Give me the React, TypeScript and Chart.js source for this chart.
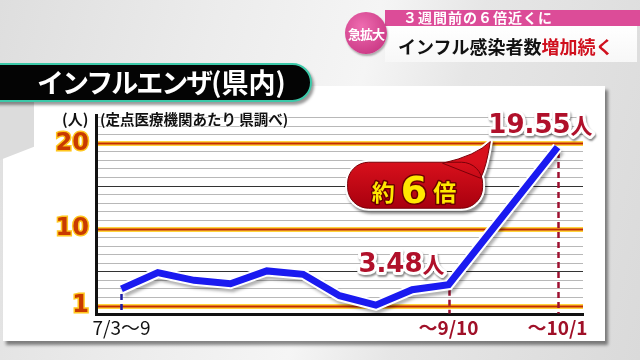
import React, { useEffect, useRef } from "react";
import { Chart, registerables } from "chart.js";
Chart.register(...registerables);

// ---- data ----
const categories = [
  "7/3～9", "～7/16", "～7/23", "～7/30", "～8/6", "～8/13", "～8/20",
  "～8/27", "～9/3", "～9/10", "～9/17", "～9/24", "～10/1",
];
const perClinic: (number | null)[] = [3.0, 4.9, 4.0, 3.6, 5.1, 4.7, 2.2, 1.1, 2.9, 3.48, null, null, 19.55];
const shownXTicks = [0, 9, 12];
const yTickLabels = [1, 10, 20];
const highlightLines = [1, 10, 20];
const darkLines = [5, 15];
const labelledPoints = [9, 12];
const yMin = 0;
const yMax = 23.3;
const unit = "人";

// annotation anchors (in data units)
const calloutCenter = { x: 8.08, y: 15.1 };
const calloutTip = { x: 10.15, y: 20.2 };

const fontJP = '"Noto Sans CJK JP", "Noto Sans", sans-serif';
const fontNum = '"DejaVu Sans", sans-serif';

const decorPlugin = {
  id: "decor",
  beforeDatasetsDraw(chart: any) {
    const { ctx, chartArea, scales } = chart;
    const x = scales.x, y = scales.y;
    ctx.save();
    highlightLines.forEach((v) => {
      const py = Math.round(y.getPixelForValue(v)) + 0.5;
      ctx.beginPath();
      ctx.moveTo(chartArea.left + 2, py);
      ctx.lineTo(chartArea.right, py);
      ctx.strokeStyle = "#ffd43c";
      ctx.lineWidth = 5;
      ctx.stroke();
      ctx.strokeStyle = "#c42a00";
      ctx.lineWidth = 2;
      ctx.stroke();
    });
    const dash = (i: number, color: string) => {
      const px = Math.round(x.getPixelForValue(i)) + 0.5;
      const py = y.getPixelForValue(perClinic[i] as number);
      ctx.beginPath();
      ctx.setLineDash([6, 4]);
      ctx.moveTo(px, py + 5);
      ctx.lineTo(px, chartArea.bottom - 1);
      ctx.strokeStyle = color;
      ctx.lineWidth = 2.5;
      ctx.stroke();
    };
    dash(0, "#1c1ca8");
    dash(9, "#9e1030");
    dash(12, "#9e1030");
    ctx.restore();
  },
  beforeDatasetDraw(chart: any, args: any) {
    const ctx = chart.ctx;
    ctx.save();
    if (args.index === 1) {
      ctx.shadowColor = "rgba(0,0,0,0.3)";
      ctx.shadowOffsetX = 2;
      ctx.shadowOffsetY = 3;
      ctx.shadowBlur = 3;
    }
  },
  afterDatasetDraw(chart: any) {
    chart.ctx.restore();
  },
  afterDatasetsDraw(chart: any) {
    const { ctx, scales } = chart;
    const x = scales.x, y = scales.y;
    ctx.save();

    // value labels
    const drawValue = (i: number, offX: number, offY: number) => {
      const v = perClinic[i] as number;
      const px = x.getPixelForValue(i);
      const py = y.getPixelForValue(v);
      const t = String(v);
      ctx.font = `bold 26px ${fontNum}`;
      const w1 = ctx.measureText(t).width;
      ctx.font = `bold 22px ${fontJP}`;
      const w2 = ctx.measureText(unit).width;
      const right = px + offX;
      const base = py + offY;
      const sx = right - w1 - w2;
      ctx.textBaseline = "alphabetic";
      ctx.textAlign = "left";
      ctx.lineJoin = "round";
      ctx.strokeStyle = "#fff";
      ctx.lineWidth = 6;
      ctx.shadowColor = "rgba(0,0,0,0.45)";
      ctx.shadowOffsetX = 1;
      ctx.shadowOffsetY = 2;
      ctx.shadowBlur = 2;
      ctx.font = `bold 26px ${fontNum}`;
      ctx.strokeText(t, sx, base);
      ctx.font = `bold 22px ${fontJP}`;
      ctx.strokeText(unit, sx + w1, base + 1);
      ctx.shadowColor = "transparent";
      ctx.fillStyle = "#b0102a";
      ctx.font = `bold 26px ${fontNum}`;
      ctx.fillText(t, sx, base);
      ctx.font = `bold 22px ${fontJP}`;
      ctx.fillText(unit, sx + w1, base + 1);
    };
    drawValue(labelledPoints[0], -4, -13);
    drawValue(labelledPoints[1], 35, -14);

    // callout bubble
    const cx = x.getPixelForValue(calloutCenter.x);
    const cy = y.getPixelForValue(calloutCenter.y);
    const tx = x.getPixelForValue(calloutTip.x);
    const ty = y.getPixelForValue(calloutTip.y);
    const w = 135, h = 46, r = 21;
    const bubble = () => {
      ctx.beginPath();
      ctx.roundRect(cx - w / 2, cy - h / 2, w, h, r);
      ctx.moveTo(cx + w / 2 - 40, cy - h / 2 + 1);
      ctx.quadraticCurveTo(tx - 14, ty + 14, tx, ty);
      ctx.quadraticCurveTo(tx - 4, ty + 26, cx + w / 2 - 2, cy - h / 2 + 16);
      ctx.closePath();
    };
    bubble();
    ctx.strokeStyle = "#fff";
    ctx.lineWidth = 5;
    ctx.lineJoin = "round";
    ctx.shadowColor = "rgba(0,0,0,0.45)";
    ctx.shadowOffsetX = 2;
    ctx.shadowOffsetY = 3;
    ctx.shadowBlur = 3;
    ctx.stroke();
    ctx.shadowColor = "transparent";
    const g = ctx.createLinearGradient(0, cy - h / 2, 0, cy + h / 2);
    g.addColorStop(0, "#d8101c");
    g.addColorStop(1, "#a8000e");
    ctx.fillStyle = g;
    bubble();
    ctx.fill();
    ctx.strokeStyle = "#7a0008";
    ctx.lineWidth = 1;
    ctx.stroke();

    // callout text
    const base = cy + 18;
    ctx.fillStyle = "#ffe800";
    ctx.strokeStyle = "#6a0000";
    ctx.lineWidth = 3;
    ctx.textAlign = "left";
    ctx.textBaseline = "alphabetic";
    const parts = [
      { t: "約", f: `bold 23px ${fontJP}`, b: base - 2 },
      { t: "6", f: `bold 38px ${fontNum}`, b: base },
      { t: "倍", f: `bold 23px ${fontJP}`, b: base - 2 },
    ];
    const gap = 6;
    let total = 0;
    const widths = parts.map((p) => {
      ctx.font = p.f;
      const m = ctx.measureText(p.t).width;
      total += m;
      return m;
    });
    total += gap * (parts.length - 1);
    let sx = cx - total / 2 - 1;
    parts.forEach((p, k) => {
      ctx.font = p.f;
      ctx.strokeText(p.t, sx, p.b);
      ctx.fillText(p.t, sx, p.b);
      sx += widths[k] + gap;
    });
    ctx.restore();
  },
};

export default function App() {
  const ref = useRef<HTMLCanvasElement>(null);
  useEffect(() => {
    const points = perClinic.map((v, i) => ({ x: i, y: v }));
    const chart = new Chart(ref.current as HTMLCanvasElement, {
      type: "line",
      data: {
        datasets: [
          {
            data: points,
            borderColor: "#1a1af0",
            borderWidth: 7,
            pointRadius: 0,
            spanGaps: true,
            borderJoinStyle: "miter",
            order: 0,
          },
          {
            data: points,
            borderColor: "#ffffff",
            borderWidth: 11,
            pointRadius: 0,
            spanGaps: true,
            borderJoinStyle: "miter",
            order: 1,
          },
        ],
      },
      options: {
        responsive: false,
        animation: false,
        devicePixelRatio: 1,
        layout: { padding: { top: 115, right: 57, left: 0, bottom: 0 } },
        plugins: { legend: { display: false }, tooltip: { enabled: false } },
        scales: {
          x: {
            type: "linear",
            min: -0.7,
            max: 12.7,
            afterFit: (s: any) => { s.height = 45.4; },
            afterBuildTicks: (s: any) => { s.ticks = shownXTicks.map((v) => ({ value: v })); },
            grid: { display: true, color: "rgba(0,0,0,0)", drawTicks: false },
            border: { display: true, color: "#111", width: 3 },
            ticks: {
              autoSkip: false,
              maxRotation: 0,
              padding: 2,
              callback: (v: any) => categories[v as number],
              color: (c: any) => (c.index === 0 ? "#111" : "#a01028"),
              font: (c: any) => ({ family: fontJP, size: 19, weight: c.index === 0 ? "normal" : "bold" }),
            },
          },
          y: {
            min: yMin,
            max: yMax,
            afterFit: (s: any) => { s.width = 96; },
            afterBuildTicks: (s: any) => {
              const t = [];
              for (let v = 0; v <= Math.floor(yMax); v++) t.push({ value: v });
              s.ticks = t;
            },
            grid: {
              drawTicks: false,
              lineWidth: 1,
              color: (c: any) => {
                const v = c.tick.value;
                if (v === 0 || highlightLines.includes(v)) return "rgba(0,0,0,0)";
                if (darkLines.includes(v)) return "#333";
                return "#b8b8b8";
              },
            },
            border: { display: true, color: "#111", width: 3 },
            ticks: {
              autoSkip: false,
              padding: 7,
              callback: (v: any) => (yTickLabels.includes(v) ? String(v) : ""),
              color: "#c83a00",
              textStrokeColor: "#ffc61e",
              textStrokeWidth: 3,
              font: { family: fontNum, size: 24, weight: "bold" },
            },
          },
        },
      },
      plugins: [decorPlugin],
    } as any);
    return () => chart.destroy();
  }, []);

  return (
    <div
      style={{
        position: "fixed",
        left: 0,
        top: 0,
        width: 640,
        height: 360,
        overflow: "hidden",
        fontFamily: fontJP,
        background: "linear-gradient(105deg, #dedede 0%, #ececec 30%, #f5f5f5 52%, #e6e6e6 66%, #dadada 100%)",
      }}
    >
      {/* chart panel */}
      <div style={{ position: "absolute", left: 3, top: 86, width: 602, height: 255, background: "#fff", boxShadow: "3px 4px 3px rgba(0,0,0,0.45)" }} />
      <div style={{ position: "absolute", left: 0, top: 100, width: 34, height: 60, background: "#dcdcdc", clipPath: "polygon(0 0, 100% 0, 100% 78%, 0 100%)" }} />
      <canvas ref={ref} width={640} height={360} style={{ position: "absolute", left: 0, top: 0, width: 640, height: 360 }} />

      {/* axis captions */}
      <div style={{ position: "absolute", left: 62, top: 110, fontSize: 15, fontWeight: "bold", lineHeight: "18px", color: "#111", textShadow: "0 0 2px #fff, 0 0 2px #fff" }}>(人)</div>
      <div style={{ position: "absolute", left: 100, top: 110, fontSize: 14.5, fontWeight: "bold", lineHeight: "18px", color: "#111", whiteSpace: "nowrap", textShadow: "0 0 2px #fff, 0 0 2px #fff, 0 0 2px #fff" }}>(定点医療機関あたり 県調べ)</div>

      {/* title bar */}
      <div style={{ position: "absolute", left: -30, top: 63, width: 338, height: 35, background: "#040404", border: "2.5px solid #3cc9a9", borderRadius: "0 20px 20px 0", boxShadow: "2px 3px 3px rgba(0,0,0,0.4)" }} />
      <div style={{ position: "absolute", left: 37, top: 62, lineHeight: "40px", fontSize: 27, fontWeight: "bold", color: "#fff", whiteSpace: "nowrap" }}>
        <span style={{ letterSpacing: -2 }}>インフルエンザ</span>
        <span style={{ fontSize: 27 }}>(県内)</span>
      </div>

      {/* top banner */}
      <div style={{ position: "absolute", left: 385, top: 10, width: 255, height: 16, background: "#dc4c98" }} />
      <div style={{ position: "absolute", left: 385, top: 26, width: 252, height: 36, background: "linear-gradient(180deg, #ffffff, #f7f7f7)" }} />
      <div style={{ position: "absolute", left: 403, top: 9, fontSize: 14, fontWeight: "bold", lineHeight: "17px", color: "#fff", letterSpacing: 1, whiteSpace: "nowrap" }}>３週間前の６倍近くに</div>
      <div style={{ position: "absolute", left: 398, top: 33, fontSize: 18, fontWeight: "bold", lineHeight: "26px", color: "#111", whiteSpace: "nowrap" }}>
        インフル感染者数<span style={{ color: "#d0101e" }}>増加続く</span>
      </div>
      <div style={{ position: "absolute", left: 345, top: 12, width: 42, height: 42, borderRadius: "50%", background: "radial-gradient(circle at 40% 35%, #ee6cb0, #cf3f8a 70%, #b83078)", boxShadow: "1px 2px 2px rgba(0,0,0,0.3)", display: "flex", alignItems: "center", justifyContent: "center", color: "#fff", fontSize: 13, fontWeight: "bold", letterSpacing: -1 }}>急拡大</div>
    </div>
  );
}
